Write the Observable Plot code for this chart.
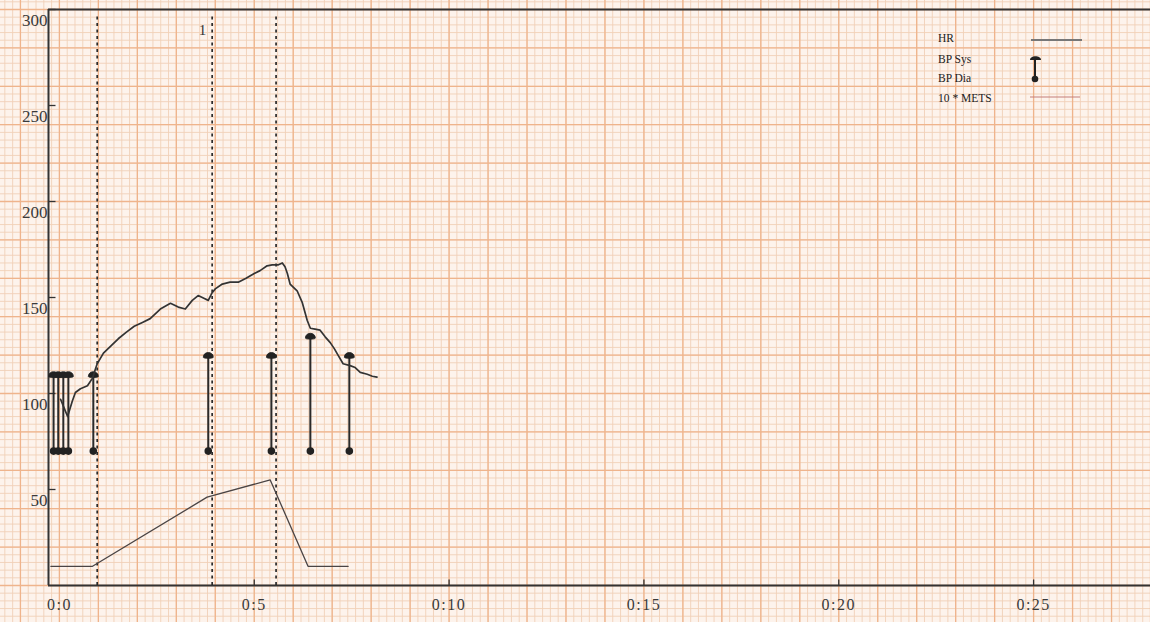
<!DOCTYPE html>
<html>
<head>
<meta charset="utf-8">
<script src="https://cdn.jsdelivr.net/npm/d3@7"></script>
<script src="https://cdn.jsdelivr.net/npm/@observablehq/plot@0.6"></script>
<style>
  html, body { margin: 0; padding: 0; background: #fdf3ec; }
  #chart { position: relative; width: 1150px; height: 622px; overflow: hidden; }
  #legend { position: absolute; left: 0; top: 0; width: 1150px; height: 622px; pointer-events: none; }
  .lg-text { position: absolute; font-family: "Liberation Serif", "DejaVu Serif", serif; font-size: 11.5px; color: #222; line-height: 12px; white-space: pre; }
  .xlab text { letter-spacing: 1.5px; }
</style>
</head>
<body>
<div id="chart"></div>
<script>
// ---- Data (time in minutes) ----
const hrTime = [0.03,0.13,0.21,0.33,0.41,0.54,0.72,0.85,0.92,0.97,1.13,1.31,1.51,1.72,1.92,2.13,2.33,2.59,2.85,3.05,3.23,3.41,3.56,3.72,3.82,3.92,4.00,4.18,4.38,4.59,4.79,5.00,5.15,5.33,5.46,5.62,5.72,5.79,5.85,5.92,6.10,6.23,6.36,6.44,6.56,6.69,6.82,6.95,7.05,7.15,7.28,7.46,7.59,7.72,7.90,8.03,8.15];
const hrValue = [97,92,88,96,100.5,102.5,104,108,112.5,115.5,121,124.5,128.5,132,135,137,139,144,147,145,144,148.5,151,149.5,148.5,152.5,154.5,157,158,158,160,162.5,164,166.5,167,167,168,166,162.5,157,153.5,147.5,138,134,133.5,133,129.5,126.5,123.5,120,115.5,114.5,113.5,111,110,109,108.5];

const metsTime = [-0.22, 0.85, 3.79, 5.41, 6.38, 7.41];
const metsValue = [10, 10, 46, 55, 10, 10];

const bpTime = [-0.15, -0.03, 0.10, 0.23, 0.87, 3.82, 5.44, 6.44, 7.44];
const bpSys  = [110, 110, 110, 110, 110, 120, 120, 130, 120];
const bpDia  = [70, 70, 70, 70, 70, 70, 70, 70, 70];

const stageTimes = [0.97, 3.92, 5.56];
const stageLabelTime = [3.67];
const stageLabelValue = [289];
const stageLabelText = ["1"];

const yTicks = [50, 100, 150, 200, 250, 300];
const yTickLabels = ["50", "100", "150", "200", "250", "300"];
const xTicks = [0, 5, 10, 15, 20, 25];
const xTickLabels = ["0:0", "0:5", "0:10", "0:15", "0:20", "0:25"];

const legendLabels = ["HR", "BP Sys", "BP Dia", "10 * METS"];

// ---- Tables built from the arrays ----
const hr = hrTime.map((t, i) => ({t, v: hrValue[i]}));
const mets = metsTime.map((t, i) => ({t, v: metsValue[i]}));
const bp = bpTime.map((t, i) => ({t, sys: bpSys[i], dia: bpDia[i]}));
const yT = yTicks.map((v, i) => ({v, label: yTickLabels[i]}));
const xT = xTicks.map((v, i) => ({v, label: xTickLabels[i]}));
const stageLab = stageLabelTime.map((t, i) => ({t, v: stageLabelValue[i], text: stageLabelText[i]}));

// ECG paper grid (decoration)
const gridXMinor = d3.range(-8, 142).map(i => i / 5);
const gridXMajor = d3.range(-2, 29);
const gridYMinor = d3.range(-5, 77).map(i => i * 4);
const gridYMajor = d3.range(-1, 16).map(i => i * 20);

const xDomain = [-0.28, 28.0];

// custom symbols
const sysCap = { draw(ctx) { ctx.moveTo(-5, 2.2); ctx.bezierCurveTo(-5, -4.2, 5, -4.2, 5, 2.2); ctx.bezierCurveTo(5, 3.6, -5, 3.6, -5, 2.2); ctx.closePath(); } };
const tickRight = { draw(ctx) { ctx.moveTo(0, 0); ctx.lineTo(7, 0); } };
const tickUp = { draw(ctx) { ctx.moveTo(0, 0); ctx.lineTo(0, -6); } };

const font = "Liberation Serif, DejaVu Serif, serif";

const chart = Plot.plot({
  width: 1150,
  height: 622,
  marginLeft: 48,
  marginRight: 0,
  marginTop: 9,
  marginBottom: 37,
  x: {domain: xDomain, axis: null},
  y: {domain: [0, 300], axis: null},
  style: {background: "#fdf3ec", fontFamily: font, overflow: "visible"},
  marks: [
    // paper grid
    Plot.ruleX(gridXMinor, {x: d => d, y1: -20, y2: 306, stroke: "#f1d0b8", strokeWidth: 0.9}),
    Plot.ruleY(gridYMinor, {y: d => d, x1: -1.7, x2: 28.3, stroke: "#f1d0b8", strokeWidth: 0.9}),
    Plot.ruleX(gridXMajor, {x: d => d, y1: -20, y2: 306, stroke: "#efb48c", strokeWidth: 1.3}),
    Plot.ruleY(gridYMajor, {y: d => d, x1: -1.7, x2: 28.3, stroke: "#efb48c", strokeWidth: 1.3}),

    // axes frame
    Plot.ruleY([0, 300], {stroke: "#333", strokeWidth: 2}),
    Plot.ruleX([xDomain[0]], {stroke: "#333", strokeWidth: 2}),
    Plot.dot(yT, {x: () => xDomain[0], y: "v", symbol: tickRight, stroke: "#333", strokeWidth: 1.3, fill: "none"}),
    Plot.dot(xT.filter(d => d.v > 0), {x: "v", y: () => 0, symbol: tickUp, stroke: "#333", strokeWidth: 1.3, fill: "none"}),
    Plot.text(yT, {y: "v", text: "label", frameAnchor: "left", textAnchor: "end", dx: -1, dy: 11, fontSize: 17, fill: "#3a3a3a"}),
    Plot.text(xT, {x: "v", text: "label", frameAnchor: "bottom", dy: 24, fontSize: 16, fill: "#3a3a3a", className: "xlab"}),

    // stage markers
    Plot.ruleX(stageTimes, {x: d => d, y1: 0, y2: 297, stroke: "#2a2a2a", strokeWidth: 1.7, strokeDasharray: "3,3.5"}),
    Plot.text(stageLab, {x: "t", y: "v", text: "text", fontSize: 15, fill: "#333"}),

    // 10 * METS
    Plot.line(mets, {x: "t", y: "v", stroke: "#4a4444", strokeWidth: 1.3}),

    // BP
    Plot.link(bp, {x1: "t", x2: "t", y1: "dia", y2: "sys", stroke: "#2a2a2a", strokeWidth: 2}),
    Plot.dot(bp, {x: "t", y: "sys", symbol: sysCap, fill: "#222", stroke: "#222", strokeWidth: 0.8}),
    Plot.dot(bp, {x: "t", y: "dia", r: 3.8, fill: "#222", stroke: "none"}),

    // HR
    Plot.line(hr, {x: "t", y: "v", stroke: "#333", strokeWidth: 1.7, strokeLinejoin: "round"})
  ]
});

const container = document.getElementById("chart");
container.appendChild(chart);

// ---- Legend (overlay, top right) ----
const legend = document.createElement("div");
legend.id = "legend";
const rowTop = [32, 53, 72, 92];
legendLabels.forEach((lab, i) => {
  const el = document.createElement("div");
  el.className = "lg-text";
  el.style.left = "938px";
  el.style.top = rowTop[i] + "px";
  el.textContent = lab;
  legend.appendChild(el);
});
const ns = "http://www.w3.org/2000/svg";
const ls = document.createElementNS(ns, "svg");
ls.setAttribute("width", 1150); ls.setAttribute("height", 622);
ls.style.position = "absolute"; ls.style.left = "0"; ls.style.top = "0";
ls.innerHTML = `
  <line x1="1031" x2="1082" y1="40" y2="40" stroke="#777" stroke-width="2"/>
  <line x1="1035" x2="1035" y1="59" y2="79" stroke="#222" stroke-width="2"/>
  <path d="M1030,60 C1030,55 1041,55 1041,60 Z" fill="#222"/>
  <circle cx="1035" cy="79" r="3.3" fill="#222"/>
  <line x1="1030" x2="1080" y1="97" y2="97" stroke="#c47e78" stroke-width="1.2"/>
`;
legend.appendChild(ls);
container.appendChild(legend);
</script>
</body>
</html>
